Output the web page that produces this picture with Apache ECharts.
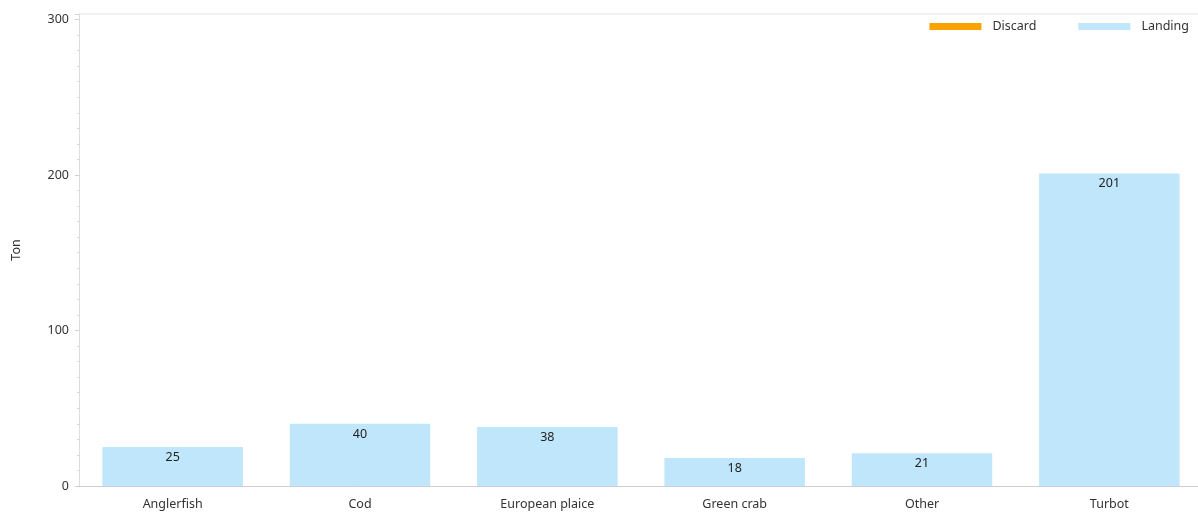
<!DOCTYPE html>
<html>
<head>
<meta charset="utf-8">
<script src="https://cdn.jsdelivr.net/npm/echarts@6/dist/echarts.min.js"></script>
<style>
  html, body { margin: 0; padding: 0; background: #fff; }
  #chart { width: 1198px; height: 514px; }
</style>
</head>
<body>
<div id="chart"></div>
<script>
// Catch by species, in tons
const species = ['Anglerfish', 'Cod', 'European plaice', 'Green crab', 'Other', 'Turbot'];
const landing = [25, 40, 38, 18, 21, 201];
const discard = [0, 0, 0, 0, 0, 0];
const yTicks = [0, 100, 200, 300];

const font = '"Noto Sans", "Open Sans", sans-serif';
const chart = echarts.init(document.getElementById('chart'));

chart.setOption({
  animation: false,
  textStyle: { fontFamily: font },
  legend: {
    top: 15,
    right: 4,
    itemWidth: 52,
    itemHeight: 7,
    itemGap: 42,
    icon: 'rect',
    textStyle: { fontFamily: font, fontSize: 12.5, color: '#333', padding: [0, 0, 0, 6] },
    data: ['Discard', 'Landing']
  },
  grid: {
    left: 79, top: 14, width: 1124, bottom: 28,
    containLabel: false,
    outerBoundsMode: 'none'
  },
  xAxis: {
    type: 'category',
    data: species,
    axisLine: { lineStyle: { color: '#cfcfcf' } },
    axisTick: { show: false },
    axisLabel: { color: '#333', fontSize: 12.5, fontFamily: font, margin: 12 }
  },
  yAxis: {
    type: 'value',
    min: 0,
    max: 303.5,
    interval: 100,
    name: 'Ton',
    nameLocation: 'middle',
    nameGap: 56,
    nameTextStyle: { color: '#333', fontSize: 12.5, fontFamily: font },
    axisLine: { show: true, lineStyle: { color: '#dcdcdc' } },
    axisTick: { show: true, length: 4, lineStyle: { color: '#d0d0d0' } },
    minorTick: { show: true, splitNumber: 10, length: 2, lineStyle: { color: '#d8d8d8' } },
    splitLine: { show: false },
    axisLabel: {
      color: '#333', fontSize: 12.5, fontFamily: font, margin: 10,
      showMaxLabel: false,
      formatter: v => (yTicks.includes(v) ? String(v) : '')
    }
  },
  series: [
    {
      name: 'Landing',
      type: 'bar',
      stack: 'catch',
      data: landing,
      barCategoryGap: '25%',
      itemStyle: { color: '#bfe6fb' },
      label: {
        show: true,
        position: 'insideTop',
        distance: 4,
        color: '#222',
        fontSize: 12.5,
        fontFamily: font
      }
    },
    {
      name: 'Discard',
      type: 'bar',
      stack: 'catch',
      data: discard,
      itemStyle: { color: '#f9a300' },
      label: { show: false }
    }
  ]
});

// thin frame line along the top of the plot area
const topY = chart.convertToPixel({ yAxisIndex: 0 }, 303.5);
const leftX = chart.getModel().getComponent('grid').coordinateSystem.getRect().x;
chart.setOption({
  graphic: [{
    type: 'line',
    shape: { x1: leftX, y1: topY, x2: 1198, y2: topY },
    style: { stroke: '#e4e4e4', lineWidth: 1 },
    silent: true
  }]
});
</script>
</body>
</html>
